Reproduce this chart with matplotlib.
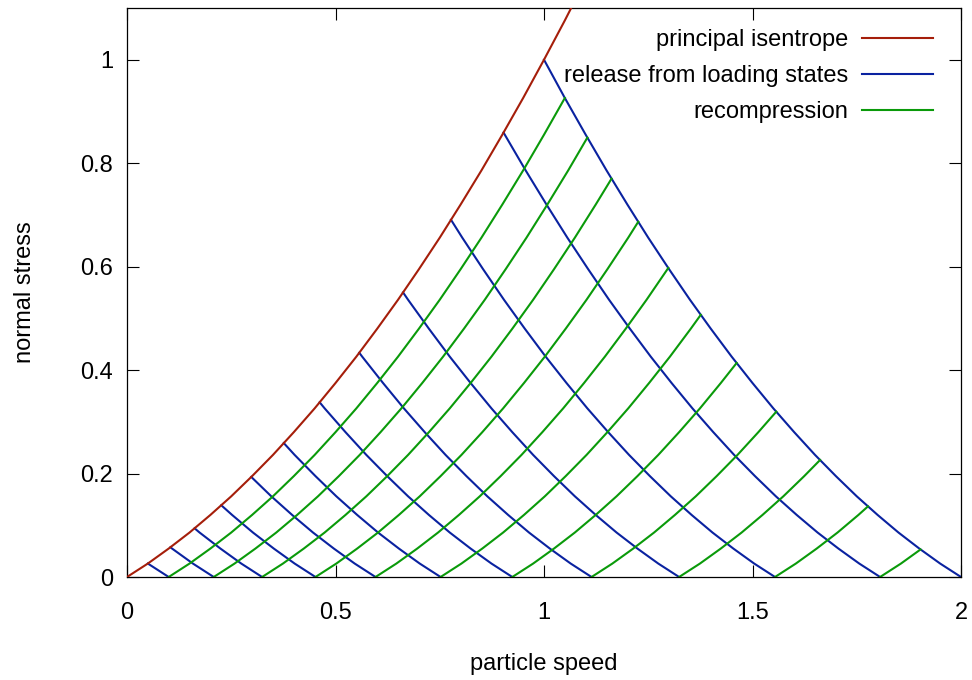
import numpy as np
import matplotlib
matplotlib.use("Agg")
import matplotlib.pyplot as plt

plt.rcParams['font.family'] = ['Liberation Sans', 'DejaVu Sans']
plt.rcParams['font.size'] = 17

# principal isentrope (particle speed, normal stress)
u_isen = [0.0, 0.05, 0.1, 0.15, 0.2, 0.25, 0.3, 0.35, 0.4, 0.45, 0.5, 0.55,
          0.6, 0.65, 0.7, 0.75, 0.8, 0.85, 0.9, 0.95, 1.0, 1.05, 1.1]
p_isen = [0.0, 0.026, 0.055, 0.086, 0.12, 0.156, 0.195, 0.236, 0.28, 0.326,
          0.375, 0.426, 0.48, 0.536, 0.595, 0.656, 0.72, 0.786, 0.855, 0.926,
          1.0, 1.076, 1.155]

# particle speed of the loading states on the isentrope
u_load = [0.05, 0.104, 0.162, 0.226, 0.298, 0.376, 0.462, 0.557, 0.662,
          0.777, 0.903, 1.0]

c_red = '#a51e0a'
c_blue = '#0a22a0'
c_green = '#0a9a0a'

u_isen = np.array(u_isen)
p_isen = np.array(p_isen)


def piece(u_end):
    # isentrope samples from 0 up to u_end
    uu = np.append(u_isen[u_isen < u_end], u_end)
    return uu, np.interp(uu, u_isen, p_isen)


fig = plt.figure(figsize=(9.72, 6.8), dpi=100)
ax = fig.add_axes([127/972, 1-577/680, 834/972, 569/680])

ax.plot(u_isen, p_isen, color=c_red, lw=1.5, label="principal isentrope",
        zorder=3)

# release: mirror of isentrope from each loading state
for k, ui in enumerate(u_load):
    uu, pp = piece(ui)
    ax.plot(2*ui - uu, pp, color=c_blue, lw=1.5,
            label="release from loading states" if k == 0 else None)

# recompression from each zero-stress point, up to the outermost release
u_max = u_load[-1]
for k, ui in enumerate(u_load[:-1]):
    uu, pp = piece(u_max - ui)
    ax.plot(2*ui + uu, pp, color=c_green, lw=1.5,
            label="recompression" if k == 0 else None)

ax.set_xlim(0, 2)
ax.set_ylim(0, 1.1)
ax.set_xticks([0, 0.5, 1, 1.5, 2])
ax.set_xticklabels(["0", "0.5", "1", "1.5", "2"])
ax.set_yticks([0, 0.2, 0.4, 0.6, 0.8, 1])
ax.set_yticklabels(["0", "0.2", "0.4", "0.6", "0.8", "1"])
ax.tick_params(direction='in', length=8.5, width=0.8, top=True, right=True)
ax.tick_params(axis='x', pad=18)
ax.tick_params(axis='y', pad=10)
for s in ax.spines.values():
    s.set_linewidth(0.9)

ax.set_xlabel("particle speed", labelpad=21)
ax.set_ylabel("normal stress", labelpad=32)

ax.legend(loc='upper right', bbox_to_anchor=(0.9664, 0.963), frameon=False,
          markerfirst=False, handlelength=3.0, handletextpad=0.6,
          labelspacing=0.59, borderpad=0, borderaxespad=0)

fig.savefig("out.png", dpi=100)
